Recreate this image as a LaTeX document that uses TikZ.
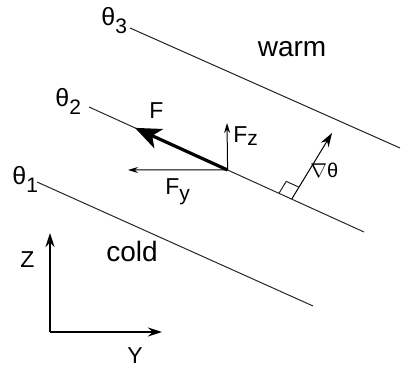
\documentclass[tikz,border=0pt]{standalone}
\usepackage{fontspec}
\setmainfont{Liberation Sans}
\usetikzlibrary{arrows.meta,calc}
\newcommand{\lowidx}[2][4pt]{\raisebox{-#1}{\fontsize{10.5}{12}\selectfont #2}}

\begin{document}
\begin{tikzpicture}[
    x=0.5pt,y=-0.5pt,
    iso/.style={line width=0.5pt,draw=black!85},
    force/.style={-{Stealth[length=5pt,width=3pt]},line width=0.5pt},
    bigF/.style={-{Stealth[length=13pt,width=10.5pt,inset=3.5pt]},line width=1.6pt},
    grad/.style={-{Stealth[length=7pt,width=4.5pt]},line width=0.5pt},
    axis/.style={-{Stealth[length=7pt,width=4.5pt]},line width=0.8pt},
    lbl/.style={inner sep=0pt,anchor=base west,font=\fontsize{11.5}{13}\selectfont},
    theta/.style={inner sep=0pt,anchor=base west,font=\fontsize{12.5}{14}\selectfont},
    zone/.style={inner sep=0pt,anchor=base,font=\fontsize{14}{16}\selectfont},
]
\useasboundingbox (0,0) rectangle (401,367);

% =====================================================================
%  isotherms theta_1 .. theta_3
% =====================================================================
\foreach \i/\xa/\ya/\xb/\yb in {1/37/182/313/306,2/89/107/364/232,3/130/28/400/148}
{
   \coordinate (s\i) at (\xa,\ya);
   \coordinate (e\i) at (\xb,\yb);
   \draw[iso] (s\i) -- (e\i);
}
\node[theta] (t1) at (12,185) {θ\lowidx{1}};
\node[theta] (t2) at (55,107) {θ\lowidx{2}};
\node[theta] (t3) at (101,26) {θ\lowidx{3}};

\node[zone] (warm) at (292,57)  {warm};
\node[zone] (cold) at (132,262) {cold};

% =====================================================================
%  force on the parcel and its components
% =====================================================================
\coordinate (O)  at ($(s2)!0.504!(e2)$);
\coordinate (Ft) at ($(s2)!0.167!(e2)$);
\coordinate (Fy) at (128,170);
\coordinate (Fz) at (227,123);
\draw[bigF]  (O) -- (Ft);
\draw[force] (O) -- (Fy);
\draw[force] (O) -- (Fz);

\node[lbl] (lF)  at (149,119) {F};
\node[lbl] (lFy) at (165,195) {F\lowidx[3pt]{y}};
\node[lbl] (lFz) at (233,143) {F\lowidx[1.5pt]{z}};

% =====================================================================
%  gradient normal to the isotherm, with right-angle mark
% =====================================================================
\coordinate (B)  at ($(s2)!0.737!(e2)$);
\coordinate (gt) at (332,133);
\draw[grad] (B) -- (gt);
\coordinate (q1) at ($(B)!7pt!(s2)$);
\coordinate (q2) at ($(B)!7pt!(gt)$);
\draw[iso] (q1) -- ($(q1)+(q2)-(B)$) -- (q2);
\node[lbl] (lg) at (310,178) {\fontsize{10}{12}\selectfont$\nabla$θ};

% =====================================================================
%  axes
% =====================================================================
\coordinate (o) at (50,332);
\coordinate (zt) at (50,233);
\coordinate (yt) at (162,332);
\draw[axis] (o) -- (zt);
\draw[axis] (o) -- (yt);
\node[lbl] (lZ) at (20,268) {Z};
\node[lbl] (lY) at (127,364) {Y};

\end{tikzpicture}
\end{document}
